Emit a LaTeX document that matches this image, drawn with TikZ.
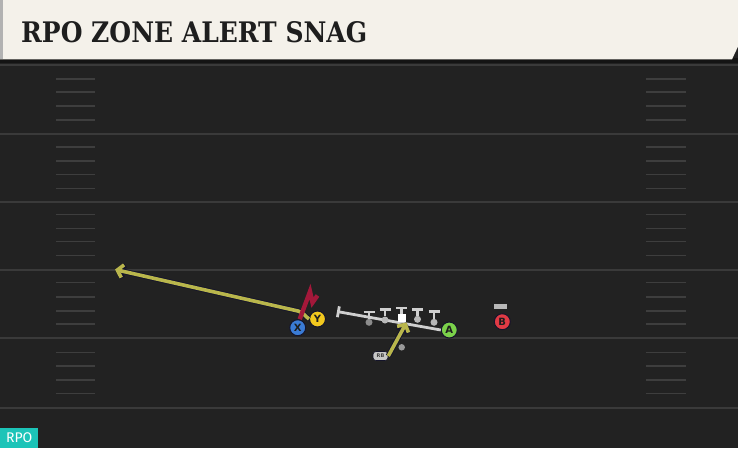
\documentclass[tikz,border=0pt]{standalone}
\usepackage{fontspec}
\setmainfont{DejaVu Sans}
\newfontfamily\titlefont{DejaVu Serif}
\newfontfamily\labelfont{Fira Sans}
\usetikzlibrary{arrows.meta}
\definecolor{fieldbg}{HTML}{222222}
\definecolor{yardcol}{HTML}{3A3A3A}
\definecolor{hashcol}{HTML}{3E3E3E}
\definecolor{titlebg}{HTML}{F4F1EA}
\definecolor{titletx}{HTML}{1E1E1E}
\definecolor{routeyel}{HTML}{B9B64C}
\definecolor{outlinecol}{HTML}{14142A}
\definecolor{routered}{HTML}{A3183A}
\definecolor{olgray}{HTML}{CFCFCF}
\definecolor{pblue}{HTML}{3A7BD5}
\definecolor{pyellow}{HTML}{F2C81E}
\definecolor{pgreen}{HTML}{7BD14A}
\definecolor{pred}{HTML}{E03A44}
\definecolor{teal}{HTML}{1CC4B8}
\tikzset{
  yardline/.style={draw=yardcol, line width=2pt},
  hashline/.style={draw=hashcol, line width=1.6pt},
  player/.style={circle, draw=outlinecol, line width=1pt, minimum size=16pt, inner sep=0pt, font=\bfseries\fontsize{10}{10}\selectfont, text=titletx},
  lineman/.style={circle, fill=#1, minimum size=7pt, inner sep=0pt},
  blockt/.style={draw=olgray, line width=2.6pt, -{Bar[width=11pt,line width=2.6pt]}},
  yelout/.style={draw=outlinecol, line width=5.4pt, -{Straight Barb[length=5.5pt,width=13pt,line width=5.4pt]}},
  yelin/.style={draw=routeyel, line width=3.6pt, -{Straight Barb[length=5.5pt,width=13pt,line width=3.6pt]}},
}
\begin{document}
\begin{tikzpicture}[x=1pt,y=-1pt]
\useasboundingbox (0,0) rectangle (738,448);
\fill[fieldbg] (0,0) rectangle (738,448);
% yard lines
\foreach \yy in {65,133.5,202,270,338,407.5} \draw[yardline] (0,\yy) -- (738,\yy);
% hashes
\foreach \yy in {79,92,106,120,147,161,174.5,188.5,214.5,228.5,241.5,255.5,282.5,297,311,324,352.5,366,380,393.5} {
  \draw[hashline] (56,\yy) -- (95,\yy);
  \draw[hashline] (646,\yy) -- (686,\yy);
}
% title bar
\fill[black!92] (0,58) rectangle (738,63);
\fill[titlebg] (0,0) -- (738,0) -- (738,46.5) -- (732,59.3) -- (0,59.3) -- cycle;
\fill[black!30] (0,0) rectangle (3,59.3);
\node[anchor=base west, inner sep=0pt, text=titletx] (title) at (21,42.7)
  {\resizebox{346pt}{21pt}{\titlefont\bfseries RPO ZONE ALERT SNAG}};
% players
\node[player, fill=pblue] (X) at (297.7,327.7) {X};
\node[player, fill=pyellow] (Y) at (317.5,319) {Y};
\node[player, fill=pgreen] (A) at (449.3,330) {A};
\node[player, fill=pred] (B) at (502.3,321.7) {B};
\node[fill=black!28, minimum width=13pt, minimum height=5pt, inner sep=0pt] (Bbar) at (500.5,306.7) {};
% offensive line
\coordinate (olstart) at (337,311.5);
\draw[olgray, line width=2.8pt, {Bar[width=11pt,line width=2.8pt]}-] (olstart) -- (A.west);
\node[lineman=black!45] (L1) at (369,322.3) {};
\node[lineman=black!28] (L2) at (385,320) {};
\node[fill=white, minimum size=8pt, inner sep=0pt] (C) at (401.5,318) {};
\node[lineman=black!28] (L4) at (417.5,319.3) {};
\node[lineman=black!28] (L5) at (434,322.3) {};
\coordinate (L1b) at (369,310.5);
\coordinate (L2b) at (385,308.3);
\coordinate (Cb) at (401.5,306.7);
\coordinate (L4b) at (417.5,308.3);
\coordinate (L5b) at (434,310);
\draw[blockt] (L1) -- (L1b);
\draw[blockt] (L2) -- (L2b);
\draw[blockt] (C) -- (Cb);
\draw[blockt] (L4) -- (L4b);
\draw[blockt] (L5) -- (L5b);
% RB
\node[fill=black!22, draw=outlinecol, line width=0.6pt, rounded corners=3pt, minimum width=15pt, minimum height=9pt, inner sep=0pt, font=\bfseries\fontsize{5}{5}\selectfont, text=black!75] (RB) at (380.5,356) {RB};
\node[circle, fill=black!40, minimum size=6.5pt, inner sep=0pt] (rbdot) at (401.7,347.3) {};
\coordinate (rbtip) at (406.5,322.5);
\draw[yelout] (RB.east) -- (rbtip);
\draw[yelin] (RB.east) -- (rbtip);
% Y route
\coordinate (ytip) at (115,269.5);
\draw[yelout] (Y.west) .. controls (306,317) and (304,313) .. (298,311) -- (ytip);
\draw[yelin] (Y.west) .. controls (306,317) and (304,313) .. (298,311) -- (ytip);
% X route (red)
\coordinate (xr1) at (310,291.5);
\coordinate (xr2) at (312.5,302.5);
\coordinate (xr3) at (317.5,295.5);
\draw[routered, line width=4.4pt, line join=miter] (X.north) ++(2,0) -- (xr1) -- (xr2) -- (xr3);
% RPO label
\node[fill=teal, anchor=south west, minimum width=38pt, minimum height=20pt, inner sep=0pt, text=white, font=\labelfont\fontsize{14}{14}\selectfont] (rpo) at (0,448) {RPO};
\end{tikzpicture}
\end{document}
